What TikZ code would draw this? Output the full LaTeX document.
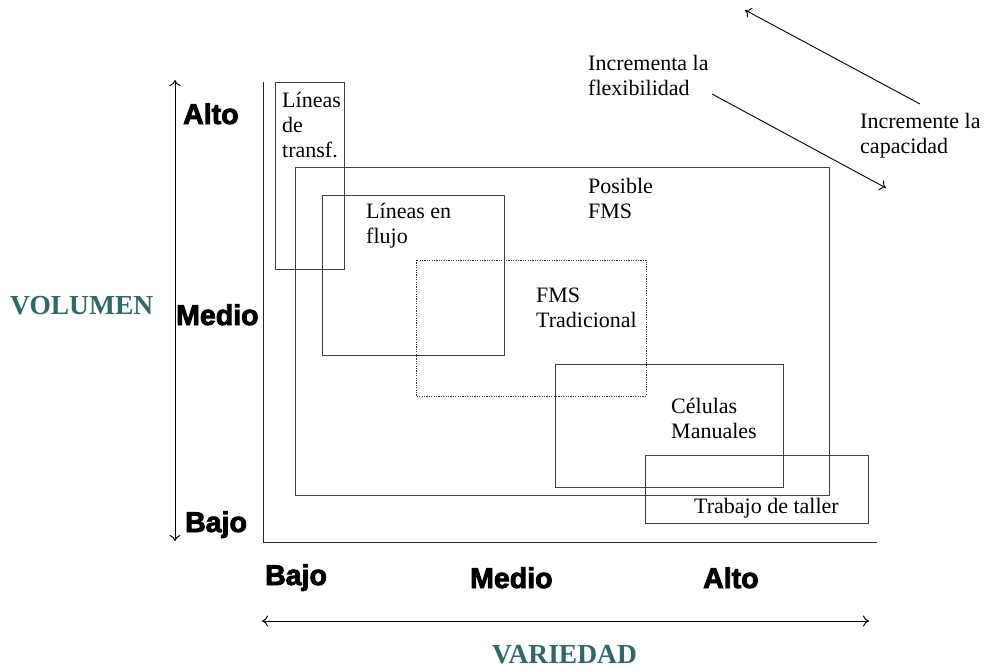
\documentclass[tikz,border=0pt]{standalone}
\usepackage{fontspec}
\setmainfont{Liberation Serif}
\newfontfamily\heavyfont[FakeBold=3]{Liberation Sans Bold}
\usetikzlibrary{arrows.meta}
\definecolor{axisteal}{RGB}{47,104,104}
\begin{document}
\begin{tikzpicture}[x=1pt,y=-1pt,
  region/.style={draw=black!75,line width=1pt},
  dottedregion/.style={draw=black!80,line width=0.9pt,dash pattern=on 1.2pt off 1.2pt},
  axisline/.style={draw=black!85,line width=1pt},
  twoway/.style={draw=black,line width=1pt,{To[length=6pt,width=11pt]}-{To[length=6pt,width=11pt]}},
  trend/.style={draw=black,line width=0.9pt,-{To[length=6pt,width=11pt]}},
  lbl/.style={font=\fontsize{22}{25}\selectfont,inner sep=0pt,anchor=base west},
  level/.style={font=\heavyfont\fontsize{28.5}{32}\selectfont,inner sep=0pt,anchor=base west},
  axistitle/.style={font=\bfseries\fontsize{27.5}{30}\selectfont,text=axisteal,inner sep=0pt,anchor=base west}]
\useasboundingbox (0,0) rectangle (984,667);

% axes of the chart
\coordinate (origin) at (263,542);
\coordinate (ytop) at (263,82);
\coordinate (xend) at (877,542);
\draw[axisline] (ytop) -- (origin) -- (xend);

% range arrows with level labels
\coordinate (vtop) at (175,80);
\coordinate (vbot) at (175,541);
\draw[twoway] (vtop) -- (vbot);
\coordinate (hleft) at (262,621);
\coordinate (hright) at (869,621);
\draw[twoway] (hleft) -- (hright);

\node[level] (valto) at (183,124) {Alto};
\node[level] (vmedio) at (176,325) {Medio};
\node[level] (vbajo) at (185,532) {Bajo};
\node[level] (hbajo) at (265,585) {Bajo};
\node[level] (hmedio) at (470,588) {Medio};
\node[level] (halto) at (703,588) {Alto};

\node[axistitle] (volumen) at (10,314) {VOLUMEN};
\node[axistitle] (variedad) at (492,663) {VARIEDAD};

% manufacturing system regions
\draw[region] (275,82) rectangle (344,269);
\draw[region] (295,167) rectangle (829,495);
\draw[region] (322,195) rectangle (504,355);
\draw[dottedregion] (416,260) rectangle (646,396);
\draw[region] (555,364) rectangle (783,487);
\draw[region] (645,455) rectangle (868,523);

\node[lbl] (tr1) at (282,107) {Líneas};
\node[lbl] (tr2) at (282,132) {de};
\node[lbl] (tr3) at (282,157) {transf.};

\node[lbl] (pf1) at (588,193) {Posible};
\node[lbl] (pf2) at (588,218) {FMS};

\node[lbl] (lf1) at (366,218) {Líneas en};
\node[lbl] (lf2) at (366,243) {flujo};

\node[lbl] (ft1) at (536,302) {FMS};
\node[lbl] (ft2) at (536,327) {Tradicional};

\node[lbl] (cm1) at (671,413) {Células};
\node[lbl] (cm2) at (671,438) {Manuales};

\node[lbl] (tt) at (694,513) {Trabajo de taller};

% trend annotations
\node[lbl] (fl1) at (588,70) {Incrementa la};
\node[lbl] (fl2) at (588,95) {flexibilidad};
\node[lbl] (ca1) at (860,128) {Incremente la};
\node[lbl] (ca2) at (860,153) {capacidad};

\coordinate (capfrom) at (920,104);
\coordinate (capto) at (745,10);
\draw[trend] (capfrom) -- (capto);
\coordinate (flexfrom) at (712,94);
\coordinate (flexto) at (886,188);
\draw[trend] (flexfrom) -- (flexto);
\end{tikzpicture}
\end{document}
